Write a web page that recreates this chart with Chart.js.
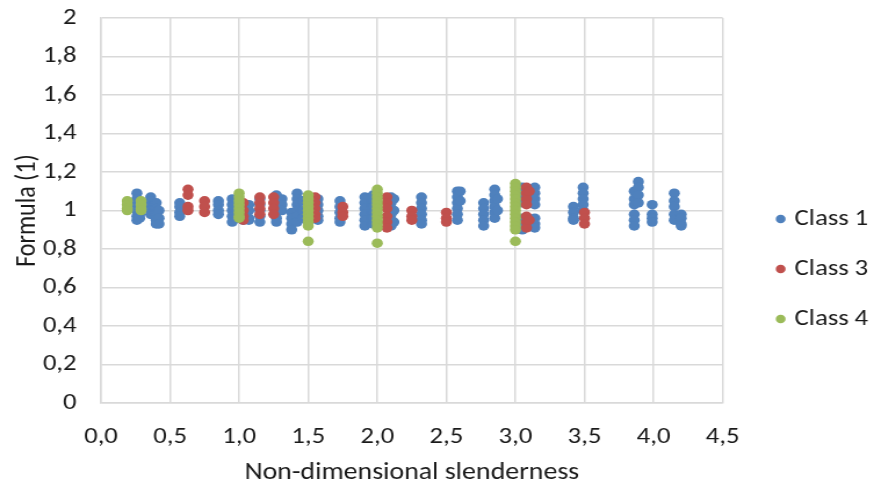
<!DOCTYPE html>
<html>
<head>
<meta charset="utf-8">
<script src="https://cdn.jsdelivr.net/npm/chart.js@4/dist/chart.umd.min.js"></script>
<style>
  html, body { margin: 0; padding: 0; background: #ffffff; overflow: hidden; }
  /* the reference picture is stretched sideways, so the chart is drawn narrower and scaled */
  #wrap { width: 753px; height: 489px; transform: scaleX(1.1607); transform-origin: 0 0; }
</style>
</head>
<body>
<div id="wrap"><canvas id="chart"></canvas></div>
<script>
// each entry: [slenderness, [formula values read at that slenderness]]
const class1Columns = [
  [0.26, [1.09, 1.06, 1.03, 1.0, 0.97, 0.95]],
  [0.28, [1.04, 0.98, 0.96]],
  [0.36, [1.07, 1.05, 1.02, 1.0, 0.98]],
  [0.40, [1.04, 1.01, 0.98, 0.95, 0.93]],
  [0.42, [1.0, 0.96, 0.93]],
  [0.57, [1.04, 1.02, 0.99, 0.97]],
  [0.85, [1.05, 1.03, 1.0, 0.98]],
  [0.95, [1.06, 1.03, 1.0, 0.97, 0.94]],
  [0.98, [1.05, 1.0, 0.96]],
  [1.03, [1.02, 0.98, 0.95]],
  [1.07, [1.03, 1.0, 0.96, 0.95]],
  [1.15, [1.06, 1.03, 1.0, 0.97, 0.94]],
  [1.27, [1.08, 1.05, 1.02, 0.99, 0.96, 0.94]],
  [1.31, [1.06, 1.03, 1.0]],
  [1.38, [0.99, 0.96, 0.93, 0.9]],
  [1.42, [1.09, 1.06, 1.03, 1.0, 0.97, 0.94]],
  [1.46, [1.05, 1.0, 0.96]],
  [1.57, [1.06, 1.03, 1.0, 0.97, 0.95]],
  [1.73, [1.05, 1.02, 0.99, 0.96, 0.94]],
  [1.91, [1.07, 1.04, 1.01, 0.98, 0.95, 0.92]],
  [1.97, [1.08, 1.05, 1.02, 0.99, 0.96, 0.93]],
  [2.10, [1.07, 1.04, 1.01, 0.98, 0.95, 0.92]],
  [2.12, [1.06, 1.0, 0.94]],
  [2.32, [1.07, 1.04, 1.01, 0.98, 0.95, 0.93]],
  [2.58, [1.1, 1.07, 1.04, 1.01, 0.98, 0.95]],
  [2.60, [1.1, 1.05]],
  [2.77, [1.04, 1.01, 0.98, 0.95, 0.92]],
  [2.85, [1.11, 1.08, 1.05, 1.02, 0.99, 0.96]],
  [2.87, [1.06, 1.0]],
  [3.05, [1.12, 1.08, 1.04, 0.96, 0.93, 0.9]],
  [3.12, [1.1, 1.05, 0.95, 0.92]],
  [3.14, [1.12, 1.09, 1.06, 1.03, 0.96, 0.93, 0.91]],
  [3.42, [1.02, 0.99, 0.96, 0.95]],
  [3.49, [1.12, 1.09, 1.06, 1.03, 1.0]],
  [3.86, [1.1, 1.06, 1.03, 0.98, 0.95, 0.92]],
  [3.89, [1.15, 1.12, 1.08, 1.04]],
  [3.99, [1.03, 0.98, 0.96, 0.94]],
  [4.15, [1.09, 1.05, 1.02, 0.98, 0.95]],
  [4.20, [0.98, 0.96, 0.93, 0.92]]
];

const class3Columns = [
  [0.63, [1.11, 1.08, 1.02, 1.0]],
  [0.75, [1.05, 1.02, 0.99]],
  [1.03, [1.04, 1.0, 0.97, 0.95]],
  [1.15, [1.07, 1.04, 1.01, 0.98]],
  [1.25, [1.07, 1.04, 1.01, 0.98]],
  [1.55, [1.07, 1.04, 1.01, 0.98, 0.96]],
  [1.75, [1.02, 0.99, 0.97]],
  [2.07, [1.07, 1.04, 1.01, 0.97, 0.94, 0.91]],
  [2.25, [1.0, 0.97, 0.95]],
  [2.50, [0.99, 0.96, 0.94]],
  [3.08, [1.12, 1.09, 1.06, 1.03, 0.97, 0.94, 0.91]],
  [3.10, [1.1, 0.95]],
  [3.50, [0.99, 0.96, 0.93]]
];

const class4Columns = [
  [0.19, [1.05, 1.03, 1.01, 1.0]],
  [0.29, [1.05, 1.03, 1.01, 1.0]],
  [1.00, [1.09, 1.07, 1.05, 1.03, 1.01, 0.99, 0.97, 0.96]],
  [1.50, [1.08, 1.06, 1.04, 1.02, 1.0, 0.98, 0.96, 0.94, 0.92, 0.84]],
  [2.00, [1.11, 1.09, 1.07, 1.05, 1.03, 1.01, 0.99, 0.97, 0.95, 0.93, 0.91, 0.83]],
  [3.00, [1.14, 1.12, 1.1, 1.08, 1.06, 1.04, 1.02, 1.0, 0.98, 0.96, 0.94, 0.92, 0.9, 0.84]]
];

const seriesNames = ["Class 1", "Class 3", "Class 4"];
const seriesColors = ["#4F81BD", "#C0504D", "#9BBB59"];

const xTicks = [0, 0.5, 1, 1.5, 2, 2.5, 3, 3.5, 4, 4.5];
const yTicks = [0, 0.2, 0.4, 0.6, 0.8, 1, 1.2, 1.4, 1.6, 1.8, 2];

function toPoints(columns) {
  const pts = [];
  columns.forEach(function (col) {
    col[1].forEach(function (v) {
      pts.push({ x: col[0], y: v });
    });
  });
  return pts;
}

function comma(v, digits) {
  const r = Math.round(v * 10) / 10;
  const s = digits ? r.toFixed(digits) : String(r);
  return s.replace(".", ",");
}

const fontFamily = "Carlito, Calibri, 'Liberation Sans', Arial, sans-serif";
const textColor = "#1a1a1a";
const gridColor = "#d9d9d9";

const allColumns = [class1Columns, class3Columns, class4Columns];
const datasets = allColumns.map(function (cols, i) {
  return {
    label: seriesNames[i],
    data: toPoints(cols),
    backgroundColor: seriesColors[i],
    borderColor: seriesColors[i],
    borderWidth: 0,
    pointRadius: 4.8,
    pointHoverRadius: 4.8,
    order: 3 - i // later classes drawn on top, like Excel
  };
});

const ctx = document.getElementById("chart").getContext("2d");
const chart = new Chart(ctx, {
  type: "scatter",
  data: { datasets: datasets },
  options: {
    responsive: true,
    maintainAspectRatio: false,
    animation: false,
    layout: { padding: { top: 0, right: -5, left: 0, bottom: 2 } },
    plugins: {
      tooltip: { enabled: false },
      legend: {
        position: "right",
        align: "center",
        // empty title only pushes the entries a bit below the middle
        title: { display: true, text: " ", padding: { top: 0, bottom: 28 }, font: { size: 19 } },
        labels: {
          sort: function (a, b) { return a.datasetIndex - b.datasetIndex; },
          usePointStyle: true,
          pointStyle: "circle",
          boxWidth: 1,
          boxHeight: 6,
          padding: 27,
          color: textColor,
          font: { family: fontFamily, size: 23 }
        }
      }
    },
    scales: {
      x: {
        type: "linear",
        min: 0,
        max: 4.5,
        afterBuildTicks: function (axis) {
          axis.ticks = xTicks.map(function (v) { return { value: v }; });
        },
        afterFit: function (axis) { axis.height = 84; },
        ticks: {
          color: textColor,
          padding: 20,
          maxRotation: 0,
          font: { family: fontFamily, size: 23 },
          callback: function (v) { return comma(v, 1); }
        },
        grid: { color: gridColor, lineWidth: 1.5, drawTicks: false },
        border: { color: gridColor, width: 1.5 },
        title: {
          display: true,
          text: "Non-dimensional slenderness",
          color: textColor,
          padding: { top: 4, bottom: 0 },
          font: { family: fontFamily, size: 24 }
        }
      },
      y: {
        type: "linear",
        min: 0,
        max: 2,
        afterBuildTicks: function (axis) {
          axis.ticks = yTicks.map(function (v) { return { value: v }; });
        },
        afterFit: function (axis) {
          axis.width = 87;
          axis.paddingTop = 18;
        },
        ticks: {
          color: textColor,
          padding: 21,
          font: { family: fontFamily, size: 23 },
          callback: function (v) { return comma(v, 0); }
        },
        grid: { color: gridColor, lineWidth: 1.5, drawTicks: false },
        border: { color: gridColor, width: 1.5 },
        title: {
          display: true,
          text: "Formula (1)",
          color: textColor,
          padding: { top: 9.5, bottom: 2 },
          font: { family: fontFamily, size: 24 }
        }
      },
      // blank strip between plot and legend
      gap: {
        type: "linear",
        position: "right",
        display: true,
        grid: { display: false },
        border: { display: false },
        ticks: { display: false },
        afterFit: function (axis) { axis.width = 22.5; }
      }
    }
  }
});
</script>
</body>
</html>
